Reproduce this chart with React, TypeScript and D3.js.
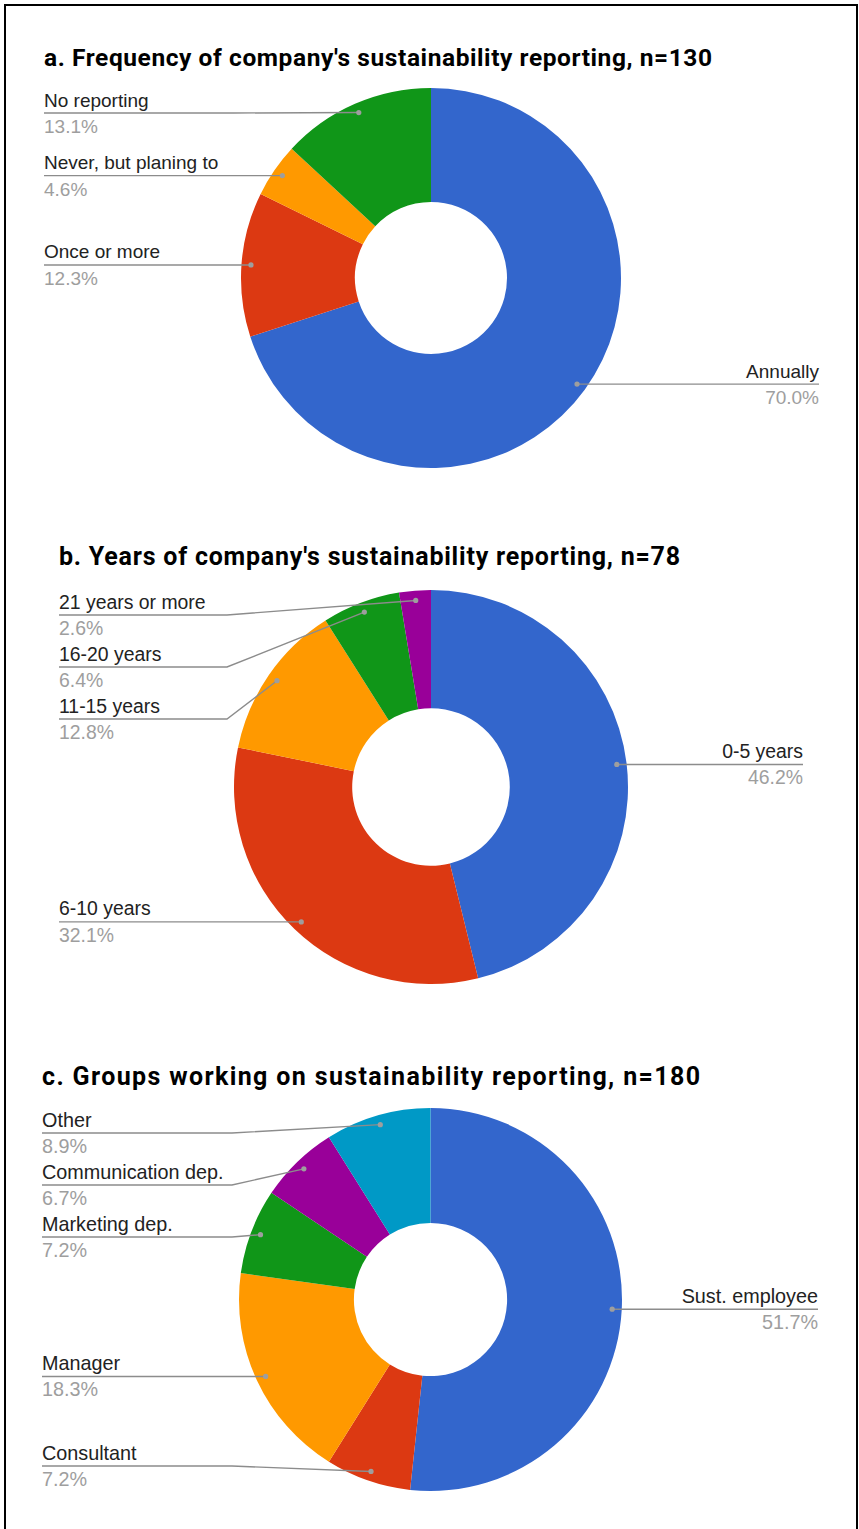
import React from "react";
import * as d3 from "d3";

const COLORS = ["#3366cc", "#dc3912", "#ff9900", "#109618", "#990099", "#0099c6"];

const titleA = "a. Frequency of company's sustainability reporting, n=130";
const labelsA = ["Annually", "Once or more", "Never, but planing to", "No reporting"];
const valuesA = [70.0, 12.3, 4.6, 13.1];

const titleB = "b. Years of company's sustainability reporting, n=78";
const labelsB = ["0-5 years", "6-10 years", "11-15 years", "16-20 years", "21 years or more"];
const valuesB = [46.2, 32.1, 12.8, 6.4, 2.6];

const titleC = "c. Groups working on sustainability reporting, n=180";
const labelsC = ["Sust. employee", "Consultant", "Manager", "Marketing dep.", "Communication dep.", "Other"];
const valuesC = [51.7, 7.2, 18.3, 7.2, 6.7, 8.9];

type Layout = {
  title: string;
  labels: string[];
  values: number[];
  left: number;
  right: number;
  cx: number;
  cy: number;
  r: number;
  titleY: number;
  titleSize: number;
  titleWidth: number;
  labelSize: number;
};

const charts: Layout[] = [
  { title: titleA, labels: labelsA, values: valuesA, left: 44, right: 819, cx: 431, cy: 278, r: 190, titleY: 66, titleSize: 24.5, titleWidth: 668, labelSize: 19 },
  { title: titleB, labels: labelsB, values: valuesB, left: 59, right: 803, cx: 431, cy: 787, r: 197, titleY: 565, titleSize: 25, titleWidth: 621, labelSize: 19.4 },
  { title: titleC, labels: labelsC, values: valuesC, left: 42, right: 818, cx: 430.5, cy: 1299.5, r: 191.5, titleY: 1085, titleSize: 25, titleWidth: 658, labelSize: 19.8 },
];

const SPACING = 52;
const EDGE = 25;

function Donut({ c }: { c: Layout }) {
  const pie = d3.pie<number>().sort(null).value((d) => d);
  const arcs = pie(c.values);
  const arc = d3.arc<d3.PieArcDatum<number>>().innerRadius(c.r * 0.4).outerRadius(c.r);
  const pr = c.r * 0.95;

  const items = arcs.map((a, i) => {
    const mid = (a.startAngle + a.endAngle) / 2;
    const px = c.cx + pr * Math.sin(mid);
    const py = c.cy - pr * Math.cos(mid);
    return { i, px, py, side: Math.sin(mid) > 0 ? "right" : "left", y: py };
  });

  const minY = c.cy - c.r + EDGE;
  const maxY = c.cy + c.r - EDGE;
  for (const side of ["left", "right"]) {
    const s = items.filter((d) => d.side === side).sort((a, b) => a.py - b.py);
    for (let k = 0; k < s.length; k++) {
      let y = Math.max(s[k].py, minY);
      if (k > 0) y = Math.max(y, s[k - 1].y + SPACING);
      s[k].y = y;
    }
    for (let k = s.length - 1; k >= 0; k--) {
      let y = Math.min(s[k].y, maxY);
      if (k < s.length - 1) y = Math.min(y, s[k + 1].y - SPACING);
      s[k].y = y;
    }
  }

  const fmt = d3.format(".1f");
  const labelFont = "'Liberation Sans', Arial, sans-serif";

  return (
    <g>
      <text
        x={c.left}
        y={c.titleY}
        fontFamily="Roboto, sans-serif"
        fontWeight={700}
        fontSize={c.titleSize}
        fill="#000"
        textLength={c.titleWidth}
        lengthAdjust="spacing"
      >
        {c.title}
      </text>
      {arcs.map((a, i) => (
        <path key={i} d={arc(a) || ""} fill={COLORS[i]} transform={`translate(${c.cx},${c.cy})`} />
      ))}
      {items.map((d) => {
        const isLeft = d.side === "left";
        const elbow = isLeft ? c.cx - c.r - 7 : c.cx + c.r + 7;
        const path = isLeft
          ? `M${c.left},${d.y}H${elbow}L${d.px},${d.py}`
          : `M${d.px},${d.py}L${elbow},${d.y}H${c.right}`;
        const tx = isLeft ? c.left : c.right;
        const anchor = isLeft ? "start" : "end";
        return (
          <g key={d.i}>
            <path d={path} fill="none" stroke="#8c8c8c" strokeWidth={1.4} />
            <circle cx={d.px} cy={d.py} r={2.6} fill="#9e9e9e" />
            <text x={tx} y={d.y - 6.5} textAnchor={anchor} fontFamily={labelFont} fontSize={c.labelSize} fill="#222">
              {c.labels[d.i]}
            </text>
            <text x={tx} y={d.y + 20} textAnchor={anchor} fontFamily={labelFont} fontSize={c.labelSize} fill="#9e9e9e">
              {fmt(c.values[d.i]) + "%"}
            </text>
          </g>
        );
      })}
    </g>
  );
}

export default function App() {
  return (
    <svg width={859} height={1529} style={{ position: "absolute", left: 0, top: 0, background: "#fff" }}>
      <rect x={0} y={0} width={859} height={1529} fill="#fff" />
      <rect x={5} y={5} width={852} height={1600} fill="none" stroke="#000" strokeWidth={2} />
      {charts.map((c, i) => (
        <Donut key={i} c={c} />
      ))}
    </svg>
  );
}
